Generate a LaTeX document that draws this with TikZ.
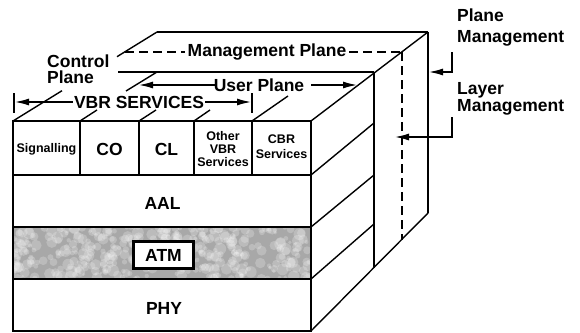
\documentclass[tikz,border=0pt]{standalone}
\usepackage{fontspec}
\setmainfont{Liberation Sans}
\usetikzlibrary{arrows.meta}
\begin{document}
\begin{tikzpicture}[x=1pt,y=-1pt,
  ln/.style={line width=1.4pt},
  thk/.style={line width=2.2pt},
  dsh/.style={line width=1.4pt,dash pattern=on 9pt off 5pt},
  arr/.style={line width=1.4pt,-{Latex[length=14pt,width=7pt]}},
  big/.style={font=\fontsize{17.5}{20}\selectfont\bfseries, inner sep=2pt},
  small/.style={font=\fontsize{12.5}{13}\selectfont\bfseries, align=center, inner sep=1pt},
]
\useasboundingbox (0,0) rectangle (580,332);

% ATM shaded row (mottled)
\begin{scope}
  \clip (13,227) rectangle (311,279);
  \fill[black!34] (13,227) rectangle (311,279);
  \pgfmathsetseed{11}
  \foreach \i in {1,...,420}{
    \pgfmathsetmacro{\px}{13+298*rnd}
    \pgfmathsetmacro{\py}{227+52*rnd}
    \pgfmathsetmacro{\pr}{1.5+4.5*rnd}
    \fill[white,opacity=0.22] (\px,\py) circle[radius=\pr];
  }
\end{scope}

% front face
\draw[ln] (13,121) rectangle (311,331);
\draw[ln] (13,175) -- (311,175);
\draw[thk] (13,227) -- (311,227);
\draw[thk] (13,279) -- (311,279);
\foreach \x in {80,139,194,252} \draw[ln] (\x,121) -- (\x,175);

% right side faces
\draw[ln] (311,121) -- (428,32);
\draw[ln] (311,331) -- (428,213);
\draw[ln] (374,72) -- (374,268);
\draw[ln] (311,175) -- (374,123);
\draw[ln] (311,227) -- (374,175);
\draw[ln] (311,279) -- (374,224);
\draw[ln] (428,32) -- (428,213);
\draw[dsh] (402,52) -- (402,240);

% top face
\draw[ln] (157,32) -- (428,32);
\draw[ln] (118,72) -- (374,72);
\draw[ln] (13,121) -- (62,90.7);
\draw[ln] (117,56.7) -- (157,32);
\draw[ln] (80,121) -- (97,110);
\draw[ln] (126,91) -- (157,72);
\draw[ln] (139,121) -- (156,110);
\draw[ln] (194,121) -- (210,110);
\draw[ln] (252,121) -- (288,96);

% Management Plane label with dashed line
\node[big, inner sep=3pt] (mgmt) at (267,52) {Management Plane};
\coordinate (mL) at (125,52);
\coordinate (mR) at (402,52);
\draw[dsh] (mL) -- (mgmt.west);
\draw[dsh] (mgmt.east) -- (mR);

% User Plane label with arrows
\node[big, inner sep=1pt] (up) at (259,85) {User Plane};
\coordinate (upL) at (139,85);
\coordinate (upR) at (357,85);
\draw[arr] ([xshift=2pt]up.west) -- (upL);
\draw[arr] ([xshift=6pt]up.east) -- (upR);

% VBR SERVICES dimension
\node[big, inner sep=1pt] (vbr) at (139,102) {VBR SERVICES};
\coordinate (vL) at (14,102);
\coordinate (vR) at (252,102);
\draw[ln] (14,93) -- (14,113);
\draw[ln] (252,93) -- (252,113);
\draw[arr] (vbr.west) -- ([xshift=1pt]vL);
\draw[arr] (vbr.east) -- ([xshift=-1pt]vR);

% Control Plane label
\node[font=\fontsize{17.5}{16}\selectfont\bfseries, align=left, anchor=north west, inner sep=0pt] (cp) at (47,55) {Control\\Plane};

% service boxes
\node[small] (sig) at (46.5,149) {Signalling};
\node[big] (co) at (109.5,149.5) {CO};
\node[big] (cl) at (166.5,149.5) {CL};
\node[small] (ovbr) at (223,149) {Other\\VBR\\Services};
\node[small, font=\fontsize{12.5}{15.5}\selectfont\bfseries] (cbr) at (281.5,146.5) {CBR\\Services};

% layers
\node[big] (aal) at (162.5,203) {AAL};
\node[big, draw, line width=3pt, fill=white, minimum width=60pt, minimum height=27pt, inner sep=0pt] (atm) at (163.5,255) {ATM};
\node[big] (phy) at (164,308.5) {PHY};

% right-hand labels
\node[font=\fontsize{17.5}{20.5}\selectfont\bfseries, align=left, anchor=north west, inner sep=0pt] (pm) at (457,9) {Plane\\Management};
\node[font=\fontsize{17.5}{17.5}\selectfont\bfseries, align=left, anchor=north west, inner sep=0pt] (lm) at (457,82) {Layer\\Management};
\coordinate (pmA) at (452,52);
\coordinate (pmT) at (429,72);
\coordinate (lmA) at (452,117);
\coordinate (lmT) at (395,137);
\draw[arr] (pmA) |- (pmT);
\draw[arr] (lmA) |- (lmT);
\end{tikzpicture}
\end{document}
